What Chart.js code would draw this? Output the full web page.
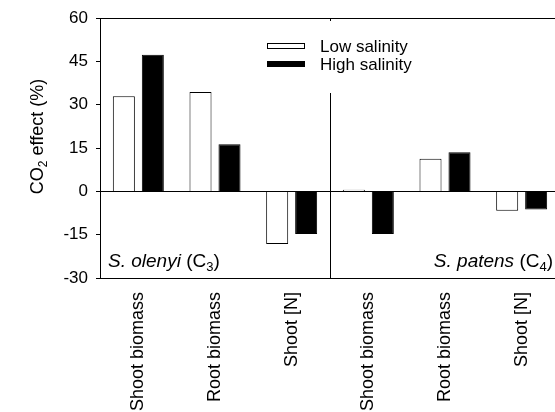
<!DOCTYPE html>
<html>
<head>
<meta charset="utf-8">
<script src="https://cdn.jsdelivr.net/npm/chart.js@4"></script>
<style>
  html, body { margin: 0; padding: 0; background: #fff; width: 555px; height: 412px; overflow: hidden; }
  canvas { display: block; }
</style>
</head>
<body>
<canvas id="c" width="562" height="412"></canvas>
<script>
// Response variables, first three for S. olenyi, last three for S. patens
const categories = ['Shoot biomass', 'Root biomass', 'Shoot [N]', 'Shoot biomass', 'Root biomass', 'Shoot [N]'];
const seriesLabels = ['Low salinity', 'High salinity'];
const lowSalinity = [33.0, 34.4, -18.2, 0.6, 11.3, -6.7];
const highSalinity = [47.3, 16.3, -14.8, -14.8, 13.6, -6.3];
const yTicks = [-30, -15, 0, 15, 30, 45, 60];
const species = ['S. olenyi', 'S. patens'];
const pathways = ['3', '4'];

const FONT = '"Liberation Sans", Arial, Helvetica, sans-serif';

// Draws "main" text followed by a subscript, returns total width
function richRun(ctx, parts, x, y, draw) {
  let cx = x;
  for (const p of parts) {
    ctx.font = p.font;
    if (draw) ctx.fillText(p.text, cx, y + (p.dy || 0));
    cx += ctx.measureText(p.text).width;
  }
  return cx - x;
}

function speciesParts(name, path) {
  return [
    { text: name, font: 'italic 19px ' + FONT },
    { text: ' (C', font: '19px ' + FONT },
    { text: path, font: '13px ' + FONT, dy: 4 },
    { text: ')', font: '19px ' + FONT }
  ];
}

const decor = {
  id: 'decor',
  afterDatasetsDraw(chart) {
    const { ctx, chartArea: a, scales: { x } } = chart;
    ctx.save();
    ctx.strokeStyle = '#000';
    ctx.lineWidth = 1;

    // top edge of the frame
    const top = Math.round(a.top) + 0.5;
    ctx.beginPath();
    ctx.moveTo(a.left, top);
    ctx.lineTo(a.right, top);
    ctx.stroke();

    // separator between the two species
    const xd = Math.round((x.getPixelForValue(2) + x.getPixelForValue(3)) / 2) + 0.5;
    ctx.beginPath();
    ctx.moveTo(xd, a.top);
    ctx.lineTo(xd, a.bottom);
    ctx.stroke();

    // legend panel
    ctx.fillStyle = '#fff';
    ctx.fillRect(262, 21, 160, 72);
    const rows = [46, 64];
    chart.data.datasets.forEach((ds, i) => {
      const cy = rows[i];
      ctx.fillStyle = ds.backgroundColor;
      ctx.fillRect(267, cy - 3, 38, 6);
      ctx.strokeStyle = ds.borderColor;
      ctx.strokeRect(267.5, cy - 2.5, 37, 5);
      ctx.fillStyle = '#000';
      ctx.font = '17px ' + FONT;
      ctx.textBaseline = 'middle';
      ctx.textAlign = 'left';
      ctx.fillText(ds.label, 320, cy + 1);
    });

    // species names inside the panels
    ctx.fillStyle = '#000';
    ctx.textBaseline = 'alphabetic';
    ctx.textAlign = 'left';
    const base = a.bottom - 11;
    richRun(ctx, speciesParts(species[0], pathways[0]), a.left + 8, base, true);
    const p2 = speciesParts(species[1], pathways[1]);
    const w2 = richRun(ctx, p2, 0, 0, false);
    richRun(ctx, p2, a.right - 7 - w2, base, true);

    // y-axis title with subscript
    const title = [
      { text: 'CO', font: '18px ' + FONT },
      { text: '2', font: '12px ' + FONT, dy: 4 },
      { text: ' effect (%)', font: '18px ' + FONT }
    ];
    const tw = richRun(ctx, title, 0, 0, false);
    const cyTitle = 136.5;
    ctx.translate(43, cyTitle + tw / 2);
    ctx.rotate(-Math.PI / 2);
    richRun(ctx, title, 0, 0, true);
    ctx.restore();
  }
};

new Chart(document.getElementById('c'), {
  type: 'bar',
  data: {
    labels: categories,
    datasets: [
      { label: seriesLabels[0], data: lowSalinity, backgroundColor: '#ffffff', borderColor: '#000000', borderWidth: 1 },
      { label: seriesLabels[1], data: highSalinity, backgroundColor: '#000000', borderColor: '#000000', borderWidth: 1 }
    ]
  },
  options: {
    responsive: false,
    animation: false,
    devicePixelRatio: 1,
    layout: { padding: { top: 15, right: 2, left: 0, bottom: 0 } },
    datasets: { bar: { categoryPercentage: 0.756, barPercentage: 0.76 } },
    plugins: { legend: { display: false }, tooltip: { enabled: false } },
    scales: {
      x: {
        grid: { display: false, drawTicks: false },
        border: { display: true, color: '#000', width: 1 },
        ticks: {
          color: '#000',
          font: { family: FONT, size: 18 },
          minRotation: 90,
          maxRotation: 90,
          padding: 14,
          autoSkip: false
        },
        afterFit(s) { s.height = 134; }
      },
      y: {
        min: yTicks[0],
        max: yTicks[yTicks.length - 1],
        afterBuildTicks(s) { s.ticks = yTicks.map(v => ({ value: v })); },
        grid: {
          drawOnChartArea: true,
          color: c => (c.tick && c.tick.value === 0 ? '#000' : 'rgba(0,0,0,0)'),
          tickColor: '#000',
          tickLength: 4,
          lineWidth: 1
        },
        border: { display: true, color: '#000', width: 1 },
        ticks: {
          color: '#000',
          font: { family: FONT, size: 17 },
          padding: 8,
          callback: v => String(v)
        },
        afterFit(s) { s.width = 100; }
      }
    }
  },
  plugins: [decor]
});
</script>
</body>
</html>
